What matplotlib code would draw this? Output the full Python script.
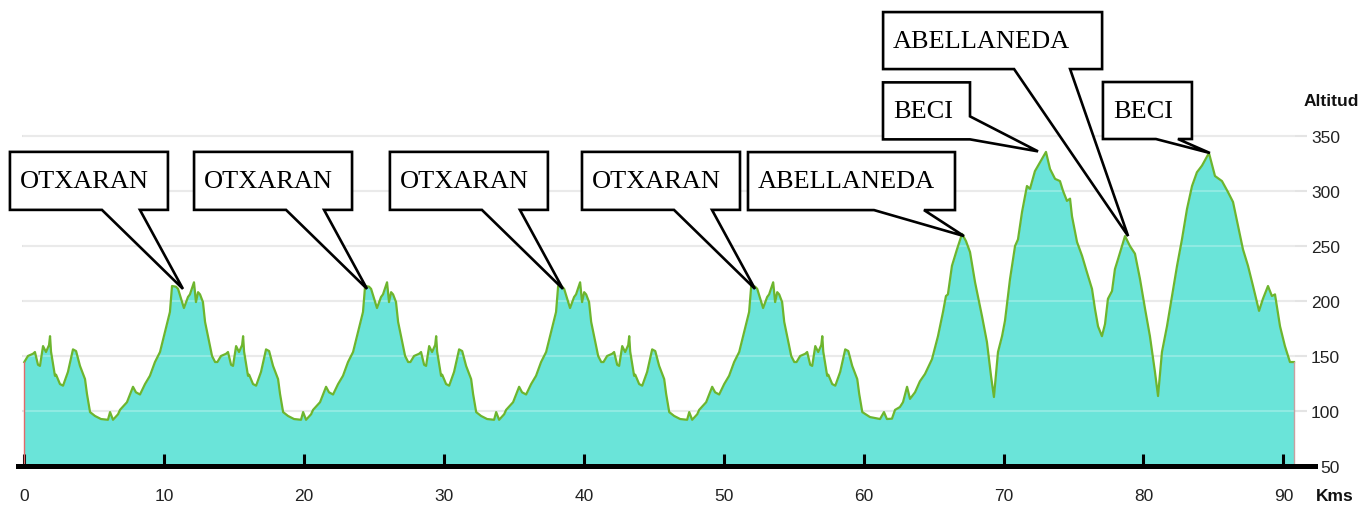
import matplotlib
matplotlib.use('Agg')
import matplotlib.pyplot as plt
from matplotlib.patches import Polygon
from matplotlib.transforms import IdentityTransform
from matplotlib import font_manager

# ---------------- data ----------------
# one loop of the circuit (km offset within loop, altitude m); the course repeats it 4 times
LOOP_KM = [0.00, 0.26, 0.62, 0.76, 0.98, 1.12, 1.34, 1.55, 1.77, 1.84, 1.91, 2.19, 2.27,
           2.55, 2.77, 3.12, 3.48, 3.70, 3.98, 4.34, 4.48, 4.70, 5.05, 5.48, 5.98, 6.13,
           6.34, 6.70, 6.84, 7.34, 7.77, 7.98, 8.27, 8.63, 8.98, 9.34, 9.70, 10.06, 10.41,
           10.56, 10.84, 10.99, 11.41, 11.70, 11.84, 12.13, 12.27, 12.42, 12.56, 12.77,
           12.92, 13.13, 13.42, 13.64]
LOOP_ALT = [144.5, 150, 152, 153.6, 142, 141, 159, 153.6, 160, 168, 154, 132, 133,
            124.5, 123, 135.5, 156, 154.5, 141, 129, 115.5, 99, 95.5, 92.7, 92, 99,
            92, 97, 101, 108, 122, 117, 115, 124.5, 132, 144.5, 153.6, 172, 190,
            213.6, 213, 211, 193.6, 203.6, 206, 217, 199, 208, 206, 199,
            181, 168, 150, 144.5]
LOOP_LENGTH = 13.8
N_LOOPS = 4
DESCENT_END = 4.70   # after the 4th loop the course follows the loop start down to the valley

FINAL_KM = [60.45, 61.17, 61.45, 61.66, 62.02, 62.24, 62.59, 62.81, 63.10, 63.31, 63.67,
            64.02, 64.38, 64.88, 65.31, 65.67, 65.88, 66.02, 66.31, 66.67, 67.03, 67.31,
            67.60, 67.96, 68.46, 68.81, 69.10, 69.31, 69.60, 69.89, 70.10, 70.46, 70.82,
            71.03, 71.32, 71.67, 71.89, 72.24, 72.60, 73.03, 73.32, 73.68, 74.03, 74.25,
            74.53, 74.75, 74.89, 75.25, 75.61, 75.96, 76.32, 76.53, 76.75, 77.03, 77.25,
            77.46, 77.75, 77.96, 78.18, 78.68, 79.03, 79.39, 79.75, 80.11, 80.46, 80.82,
            81.04, 81.32, 81.68, 82.04, 82.40, 82.75, 83.11, 83.47, 83.82, 84.18, 84.68,
            85.11, 85.61, 86.04, 86.40, 86.76, 87.11, 87.47, 87.83, 88.26, 88.54, 88.90,
            89.18, 89.40, 89.76, 90.11, 90.47, 90.76]
FINAL_ALT = [94.5, 92.7, 99, 92.7, 93, 101, 103.6, 108, 122, 111, 117,
             127, 133.6, 147, 168, 190, 204.5, 206, 232, 247, 261, 254.5,
             244.5, 217, 186, 162.7, 132, 112.7, 153.6, 168, 182, 220, 250,
             256, 281, 304.5, 302, 318, 326, 335.5, 320, 311, 309, 300,
             291, 293, 277, 253.6, 241, 226, 211, 193, 177, 168, 179,
             202, 209, 229, 238, 259, 250, 243, 220, 193, 168, 135.5,
             113.6, 153.6, 177, 204.5, 232, 256, 283.6, 304.5, 317, 323, 334.5,
             313.6, 309, 299, 290, 268, 247, 232, 213.6, 191, 202, 213.6,
             204.5, 206, 177, 159, 144.5, 144.5]

X_TICKS = [0, 10, 20, 30, 40, 50, 60, 70, 80, 90]
Y_TICKS = [50, 100, 150, 200, 250, 300, 350]

ANNOT_LABELS = ['OTXARAN', 'OTXARAN', 'OTXARAN', 'OTXARAN',
                'ABELLANEDA', 'BECI', 'ABELLANEDA', 'BECI']
ANNOT_KM = [11.34, 24.5, 38.5, 52.23, 67.17, 72.46, 78.9, 84.75]
ANNOT_ALT = [211, 211, 211, 211, 259, 336, 259, 334.5]

# ---------------- build course ----------------
km, alt = [], []
for i in range(N_LOOPS):
    for k, a in zip(LOOP_KM, LOOP_ALT):
        km.append(k + i * LOOP_LENGTH)
        alt.append(a)
for k, a in zip(LOOP_KM, LOOP_ALT):
    if k <= DESCENT_END:
        km.append(k + N_LOOPS * LOOP_LENGTH)
        alt.append(a)
km += FINAL_KM
alt += FINAL_ALT

# ---------------- fonts ----------------
avail = {f.name for f in font_manager.fontManager.ttflist}
sans = 'Liberation Sans Narrow' if 'Liberation Sans Narrow' in avail else 'Liberation Sans'
serif = 'Liberation Serif'

W, H = 1362, 506
fig = plt.figure(figsize=(W / 100, H / 100), dpi=100)
ax = fig.add_axes([18 / W, 39 / H, 1297 / W, 467 / H])
ax.set_xlim(-0.45, 92.26)
ax.set_ylim(50, 474.5)

# gridlines behind
for y in Y_TICKS[1:]:
    ax.plot([-0.15, 91.7], [y, y], color='#e4e4e4', lw=1.5, zorder=0, solid_capstyle='butt')

ax.fill_between(km, 50, alt, color='#6AE4D9', lw=0, zorder=1)
# faint grid visible through fill
for y in Y_TICKS[1:]:
    ax.plot([0, km[-1]], [y, y], color='white', alpha=0.25, lw=1.5, zorder=1.5)
ax.plot(km, alt, color='#6DB52E', lw=1.6, zorder=2)
ax.plot([km[0], km[0]], [50, alt[0]], color='#e06a6a', lw=1, zorder=2)
ax.plot([km[-1], km[-1]], [50, alt[-1]], color='#c8a0a0', lw=1, zorder=2)

for s in ['top', 'left', 'right']:
    ax.spines[s].set_visible(False)
ax.spines['bottom'].set_linewidth(3.6)
ax.spines['bottom'].set_zorder(5)

ax.set_xticks(X_TICKS)
ax.set_xticklabels([str(v) for v in X_TICKS], fontfamily=sans, fontsize=12.5, color='#222222')
ax.tick_params(axis='x', direction='in', length=8.5, width=2.2, color='black', pad=16)
ax.yaxis.tick_right()
ax.set_yticks(Y_TICKS)
ax.set_yticklabels([str(v) for v in Y_TICKS], fontfamily=sans, fontsize=12.5, color='#222222')
ax.tick_params(axis='y', length=0, pad=18)
for lab in ax.get_yticklabels():
    lab.set_horizontalalignment('right')

fig.text(1331 / W, 1 - 102 / H, 'Altitud', fontfamily=sans, fontweight='bold', fontsize=12.5,
         ha='center', va='center', color='#111111')
fig.text(1335 / W, 1 - 497 / H, 'Kms', fontfamily=sans, fontweight='bold', fontsize=12.5,
         ha='center', va='center', color='#111111')

# ---------------- callout boxes (layout offsets in pixels from the pointed peak) ----------------
# (left, right, top, bottom) of box relative to tip, image-y downward; wedge base points
OTX = dict(box=(-173, -15, -137, -79), wedge=('bottom', -81, -43))
LAYOUT = [OTX, OTX, OTX, OTX,
          dict(box=(-216, -9, -84, -26), wedge=('bottom', -90, -40)),
          dict(box=(-155, -68, -69, -12), wedge=('right', -35, None)),
          dict(box=(-245, -26, -224, -167), wedge=('bottom', -114, -58)),
          dict(box=(-107, -18, -71, -14), wedge=('bottom', -54, -32))]

for label, k, a, lay in zip(ANNOT_LABELS, ANNOT_KM, ANNOT_ALT, LAYOUT):
    tx, ty = ax.transData.transform((k, a))
    L, R, T, B = lay['box']
    side, w1, w2 = lay['wedge']
    if side == 'bottom':
        pts = [(L, T), (R, T), (R, B), (w2, B), (0, 0), (w1, B), (L, B)]
    else:
        pts = [(L, T), (R, T), (R, w1), (0, 0), (R, B), (L, B)]
    disp = [(tx + dx, ty - dy) for dx, dy in pts]
    poly = Polygon(disp, closed=True, facecolor='white', edgecolor='black', lw=1.9,
                   joinstyle='miter', transform=IdentityTransform(), zorder=10, clip_on=False)
    fig.add_artist(poly)
    fig.text((tx + L + 10) / W, (ty - (T + B) / 2) / H, label, fontfamily=serif, fontsize=19,
             ha='left', va='center', color='black', zorder=11)

fig.savefig('out.png', dpi=100)
